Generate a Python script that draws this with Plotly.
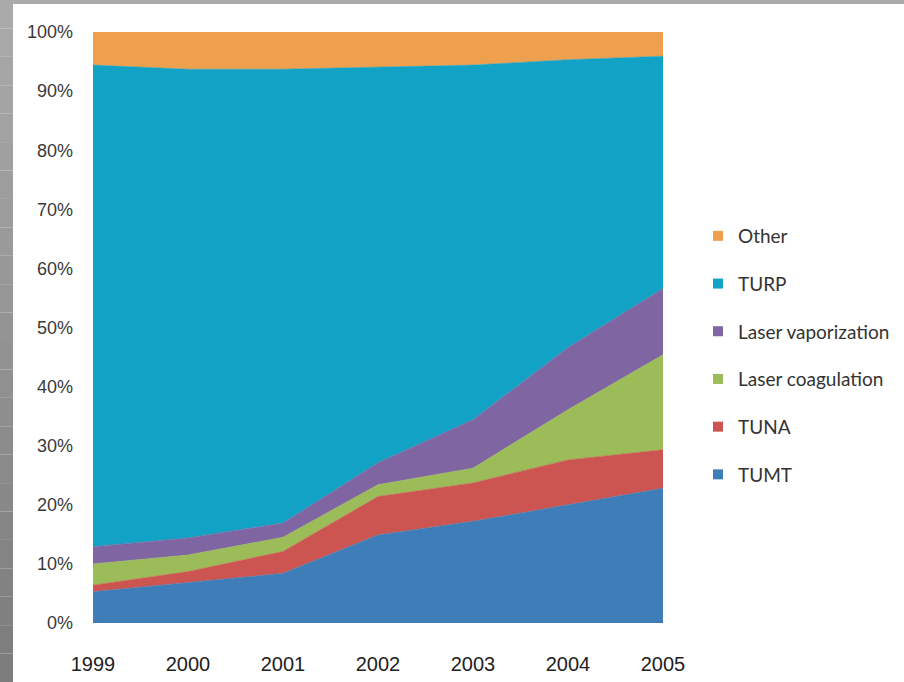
import plotly.graph_objects as go

years = [1999, 2000, 2001, 2002, 2003, 2004, 2005]

# Share of procedures per year (percent), bottom of the stack first
tumt = [5.3, 6.9, 8.4, 14.9, 17.2, 20.0, 22.8]
tuna = [1.1, 1.8, 3.7, 6.5, 6.5, 7.6, 6.5]
laser_coag = [3.6, 2.8, 2.4, 2.0, 2.5, 8.5, 16.1]
laser_vap = [2.9, 2.9, 2.4, 3.7, 8.2, 10.5, 11.2]
turp = [81.5, 79.3, 76.8, 67.0, 60.0, 48.7, 39.3]
other = [5.6, 6.3, 6.3, 5.9, 5.6, 4.7, 4.1]

series_names = ["TUMT", "TUNA", "Laser coagulation", "Laser vaporization", "TURP", "Other"]
series_values = [tumt, tuna, laser_coag, laser_vap, turp, other]
colors = ["#3f7db8", "#cd5551", "#9cbc5a", "#7f66a3", "#12a2c6", "#eea04f"]

y_ticks = list(range(0, 101, 10))

W, H = 904, 682
L, R, T, B = 93, 241, 32, 59
pw, ph = W - L - R, H - T - B

fig = go.Figure()

for name, vals, col in zip(series_names, series_values, colors):
    fig.add_trace(go.Scatter(
        x=years, y=vals, name=name, mode="lines",
        stackgroup="one", groupnorm="percent",
        line=dict(width=0.6, color=col), fillcolor=col,
        showlegend=False, hoverinfo="x+y+name",
    ))

# Square swatches for the legend, top entry = top of the stack
for name, col in reversed(list(zip(series_names, colors))):
    fig.add_trace(go.Scatter(
        x=[None], y=[None], name=name, mode="markers",
        marker=dict(symbol="square", size=10, color=col),
        legendgroup=name, showlegend=True,
    ))


def px_x(p):
    return (p - L) / pw


def px_y(p):
    return (H - B - p) / ph


shapes = []
# Grey frame on the left edge (shaded top to bottom) and along the top
steps = 24
for i in range(steps):
    g = int(170 - (170 - 125) * i / (steps - 1))
    shapes.append(dict(
        type="rect", xref="paper", yref="paper",
        x0=px_x(0), x1=px_x(13),
        y0=px_y(H * (i + 1) / steps), y1=px_y(H * i / steps),
        fillcolor=f"rgb({g},{g},{g})", line=dict(width=0), layer="above",
    ))
shapes.append(dict(
    type="rect", xref="paper", yref="paper",
    x0=px_x(0), x1=px_x(W), y0=px_y(4), y1=px_y(0),
    fillcolor="rgb(170,170,170)", line=dict(width=0), layer="above",
))

fig.update_layout(
    width=W, height=H,
    margin=dict(l=L, r=R, t=T, b=B, pad=0, autoexpand=False),
    paper_bgcolor="white", plot_bgcolor="white",
    font=dict(family="Liberation Sans", color="#333333"),
    shapes=shapes,
    showlegend=True,
    legend=dict(
        x=px_x(698), y=px_y(217), xanchor="left", yanchor="top",
        traceorder="grouped", tracegroupgap=20,
        font=dict(family="Lato", size=19, color="#333333"),
        itemwidth=30, borderwidth=0, bgcolor="rgba(0,0,0,0)",
    ),
    xaxis=dict(
        range=[1999, 2005], tickmode="array", tickvals=years,
        ticktext=[str(y) for y in years], automargin=False,
        showgrid=False, zeroline=False, showline=False, ticks="",
        ticklabelstandoff=27,
        tickfont=dict(family="Liberation Sans", size=20, color="#222222"),
    ),
    yaxis=dict(
        range=[0, 100], tickmode="array", tickvals=y_ticks,
        ticktext=[f"{v}%" for v in y_ticks], automargin=False,
        showgrid=False, zeroline=False, showline=False, ticks="",
        ticklabelstandoff=19,
        tickfont=dict(family="Liberation Sans", size=18, color="#3a3a3a"),
    ),
)

fig.write_html("out.html")
